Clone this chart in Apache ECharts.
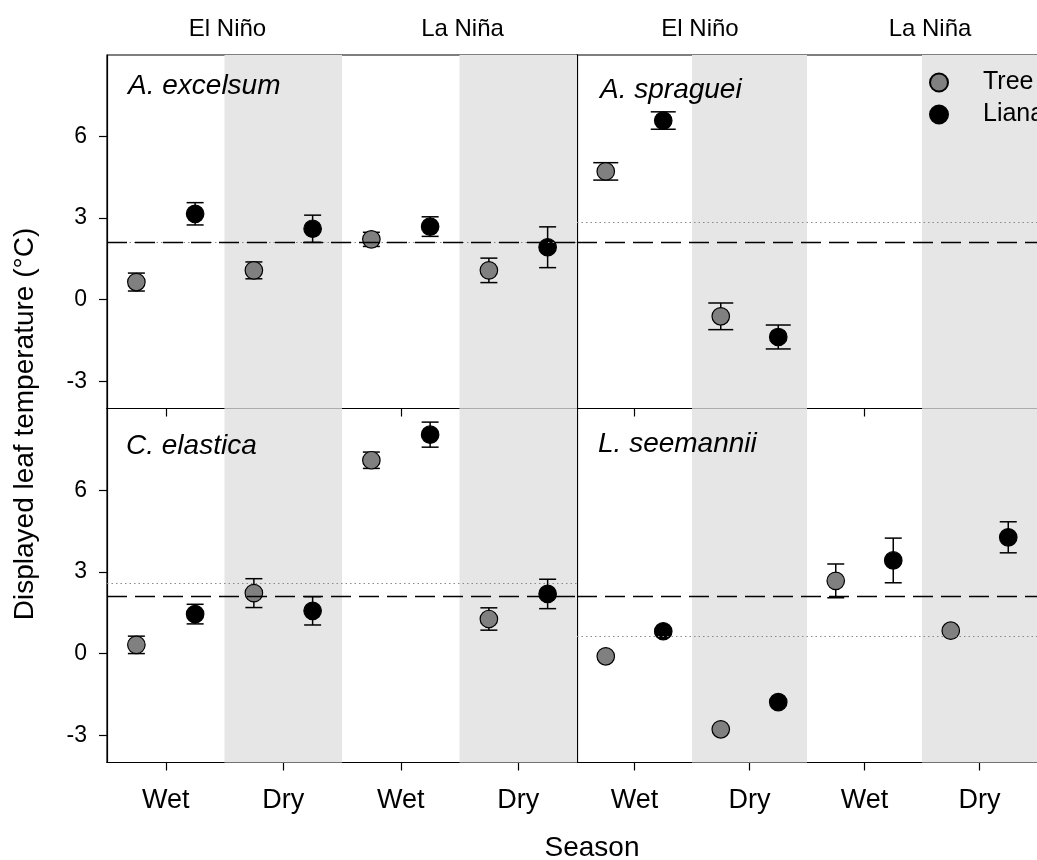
<!DOCTYPE html>
<html><head><meta charset="utf-8">
<script src="https://cdn.jsdelivr.net/npm/echarts@6/dist/echarts.min.js"></script>
<style>html,body{margin:0;padding:0;background:#fff}#c{width:1037px;height:860px}</style>
</head><body><div id="c"></div>
<script>
// ---------- data ----------
const seasons = ['Wet', 'Dry', 'Wet', 'Dry'];
const phases = ['El Niño', 'La Niña'];
const species = ['A. excelsum', 'A. spraguei', 'C. elastica', 'L. seemannii'];
const yTickValues = [-3, 0, 3, 6];

const excelsumTree = [0.65, 1.08, 2.22, 1.08];
const excelsumTreeSE = [0.33, 0.31, 0.26, 0.45];
const excelsumLiana = [3.16, 2.61, 2.69, 1.93];
const excelsumLianaSE = [0.41, 0.50, 0.36, 0.75];

const spragueiTree = [4.72, -0.61, null, null];
const spragueiTreeSE = [0.32, 0.49, null, null];
const spragueiLiana = [6.59, -1.37, null, null];
const spragueiLianaSE = [0.32, 0.44, null, null];

const elasticaTree = [0.32, 2.22, 7.10, 1.27];
const elasticaTreeSE = [0.32, 0.53, 0.30, 0.41];
const elasticaLiana = [1.45, 1.57, 8.04, 2.19];
const elasticaLianaSE = [0.36, 0.52, 0.46, 0.54];

const seemanniiTree = [-0.10, -2.78, 2.67, 0.84];
const seemanniiTreeSE = [0.05, 0.05, 0.62, 0.05];
const seemanniiLiana = [0.82, -1.78, 3.42, 4.27];
const seemanniiLianaSE = [0.08, 0.05, 0.82, 0.57];

const refDashed = [2.1, 2.1, 2.1, 2.1];
const refDotted = [2.12, 2.85, 2.57, 0.63];

// ---------- layout / styles ----------
const FONT = "'Liberation Sans', Arial, sans-serif";
const panels = [
  {tree: excelsumTree, treeSE: excelsumTreeSE, liana: excelsumLiana, lianaSE: excelsumLianaSE, grid: {left: 107, top: 55, width: 470, height: 353.5}, cap: 8.5, title: {left: 128, top: 72}},
  {tree: spragueiTree, treeSE: spragueiTreeSE, liana: spragueiLiana, lianaSE: spragueiLianaSE, grid: {left: 577, top: 55, width: 470, height: 353.5}, cap: 12.5, title: {left: 600, top: 76}},
  {tree: elasticaTree, treeSE: elasticaTreeSE, liana: elasticaLiana, lianaSE: elasticaLianaSE, grid: {left: 107, top: 408.5, width: 470, height: 354}, cap: 8.5, title: {left: 126, top: 432}},
  {tree: seemanniiTree, treeSE: seemanniiTreeSE, liana: seemanniiLiana, lianaSE: seemanniiLianaSE, grid: {left: 577, top: 408.5, width: 470, height: 354}, cap: 8.5, title: {left: 598, top: 430}}
];
const OFFSET = 0.25;

function toPoints(means, ses, dx) {
  const out = [];
  means.forEach((m, i) => { if (m !== null) out.push([i + dx, m, ses[i]]); });
  return out;
}

function makeErrRender(cap) {
  return function (params, api) {
    const x = api.value(0), y = api.value(1), e = api.value(2);
    const top = api.coord([x, y + e]);
    const bot = api.coord([x, y - e]);
    const st = {stroke: '#000', lineWidth: 1.5};
    return {type: 'group', children: [
      {type: 'line', shape: {x1: top[0], y1: top[1], x2: bot[0], y2: bot[1]}, style: st},
      {type: 'line', shape: {x1: top[0] - cap, y1: top[1], x2: top[0] + cap, y2: top[1]}, style: st},
      {type: 'line', shape: {x1: bot[0] - cap, y1: bot[1], x2: bot[0] + cap, y2: bot[1]}, style: st}
    ]};
  };
}

const grid = [], xAxis = [], yAxis = [], series = [], title = [];
panels.forEach((p, i) => {
  grid.push(Object.assign({show: true, borderColor: '#000', borderWidth: 1.2, backgroundColor: 'transparent', containLabel: false}, p.grid));
  xAxis.push({
    type: 'value', gridIndex: i, min: -0.5, max: 3.5, position: 'bottom',
    axisLine: {show: true, onZero: false, lineStyle: {color: '#000', width: 1.2}},
    axisTick: {show: true, inside: false, length: 8, customValues: [0, 1, 2, 3], lineStyle: {color: '#000', width: 1.2}},
    axisLabel: {show: i >= 2, customValues: [0, 1, 2, 3], formatter: v => seasons[Math.round(v)], fontSize: 27, fontFamily: FONT, color: '#000', margin: 25},
    splitLine: {show: false}
  });
  yAxis.push({
    type: 'value', gridIndex: i, min: -4, max: 9, position: 'left',
    axisLine: {show: true, onZero: false, lineStyle: {color: '#000', width: 1.2}},
    axisTick: {show: true, inside: false, length: 8, customValues: yTickValues, lineStyle: {color: '#000', width: 1.2}},
    axisLabel: {show: i % 2 === 0, customValues: yTickValues, fontSize: 23, fontFamily: FONT, color: '#000', margin: 20},
    splitLine: {show: false}
  });
  title.push({text: species[i], left: p.title.left, top: p.title.top, padding: 0,
    textStyle: {fontSize: 28, fontStyle: 'italic', fontWeight: 'normal', fontFamily: FONT, color: '#000'}});

  // background bands + reference lines
  series.push({
    type: 'line', xAxisIndex: i, yAxisIndex: i, data: [], silent: true, z: 1,
    markArea: {silent: true, itemStyle: {color: '#e6e6e6'},
      data: [[{xAxis: 0.5}, {xAxis: 1.5}], [{xAxis: 2.5}, {xAxis: 3.5}]]},
    markLine: {silent: true, symbol: 'none', label: {show: false}, animation: false,
      data: [
        {yAxis: refDotted[i], lineStyle: {color: '#8a8a8a', width: 1.2, type: [1.5, 3]}},
        {yAxis: refDashed[i], lineStyle: {color: '#000', width: 1.4, type: [20, 8]}}
      ]}
  });
  const treePts = toPoints(p.tree, p.treeSE, -OFFSET);
  const lianaPts = toPoints(p.liana, p.lianaSE, OFFSET);
  series.push({type: 'custom', xAxisIndex: i, yAxisIndex: i, renderItem: makeErrRender(p.cap), data: treePts, z: 3, silent: true});
  series.push({type: 'custom', xAxisIndex: i, yAxisIndex: i, renderItem: makeErrRender(p.cap), data: lianaPts, z: 3, silent: true});
  series.push({name: 'Tree', type: 'scatter', xAxisIndex: i, yAxisIndex: i, data: treePts, symbol: 'circle', symbolSize: 17.5, z: 4,
    itemStyle: {color: '#808080', borderColor: '#000', borderWidth: 1.2, opacity: 1}});
  series.push({name: 'Liana', type: 'scatter', xAxisIndex: i, yAxisIndex: i, data: lianaPts, symbol: 'circle', symbolSize: 17.5, z: 4,
    itemStyle: {color: '#000', borderColor: '#000', borderWidth: 1.2, opacity: 1}});
});

// top phase labels (El Niño / La Niña) above the upper panels
[0, 1].forEach(i => {
  xAxis.push({
    type: 'value', gridIndex: i, position: 'top', min: -0.5, max: 3.5,
    axisLine: {show: false, onZero: false}, axisTick: {show: false}, splitLine: {show: false},
    axisLabel: {show: true, customValues: [0.5, 2.5], formatter: v => phases[v < 1.5 ? 0 : 1],
      fontSize: 24, fontFamily: FONT, color: '#000', margin: 14, padding: i === 1 ? [0, 0, 0, 16] : [0, 0, 0, 6]}
  });
});

const option = {
  animation: false,
  backgroundColor: '#fff',
  textStyle: {fontFamily: FONT},
  grid, xAxis, yAxis, series, title,
  legend: {
    data: ['Tree', 'Liana'], orient: 'vertical', left: 929, top: 70, padding: 0,
    itemWidth: 18, itemHeight: 18, itemGap: 7, icon: 'circle', selectedMode: false,
    textStyle: {fontSize: 25, lineHeight: 25, fontFamily: FONT, color: '#000', padding: [0, 0, 0, 30]}
  },
  graphic: [
    {type: 'text', x: 25, y: 424, rotation: Math.PI / 2,
      style: {text: 'Displayed leaf temperature (°C)', fontSize: 28, fontFamily: FONT, fill: '#000', align: 'center', verticalAlign: 'middle'}},
    {type: 'text', x: 592, y: 848,
      style: {text: 'Season', fontSize: 28, fontFamily: FONT, fill: '#000', align: 'center', verticalAlign: 'middle'}}
  ]
};

const chart = echarts.init(document.getElementById('c'), null, {renderer: 'canvas'});
chart.setOption(option);
</script>
</body></html>
